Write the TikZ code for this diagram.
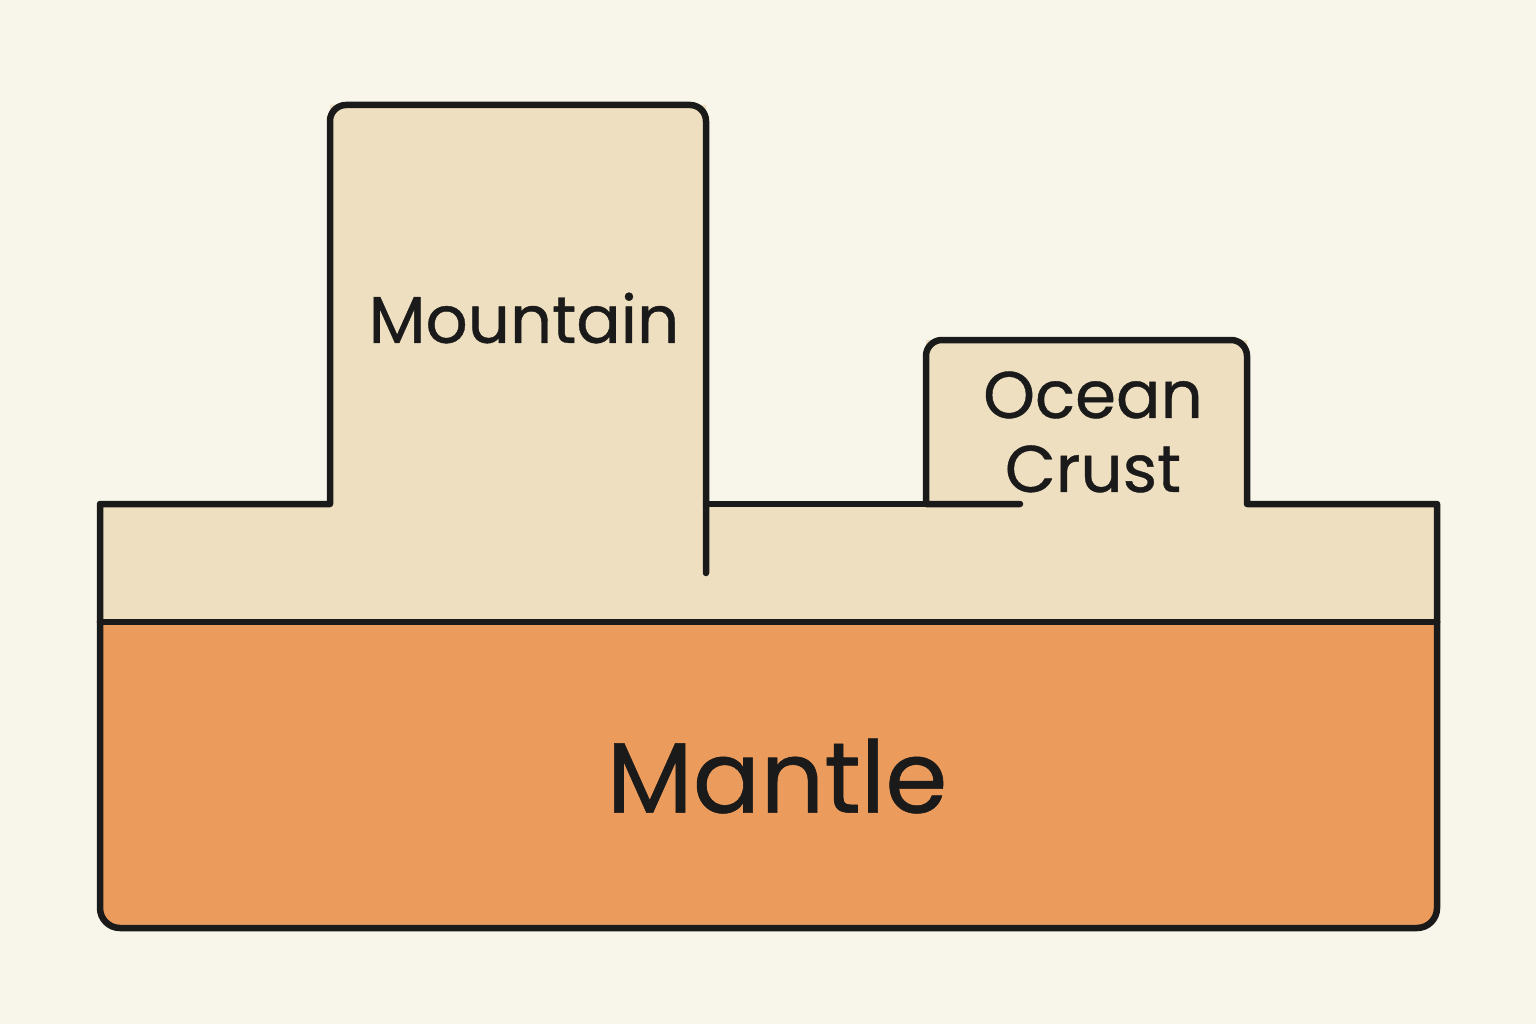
\documentclass[tikz,border=0pt]{standalone}
\usepackage{fontspec}
\setmainfont{Poppins}
\newfontfamily\popb[FakeBold=0.6]{Poppins}
\definecolor{bg}{HTML}{F8F5EA}
\definecolor{crust}{HTML}{EEDFC0}
\definecolor{mantle}{HTML}{EB9B5C}
\definecolor{ink}{HTML}{1A1A1A}
\begin{document}
\begin{tikzpicture}[x=1pt,y=-1pt,line width=6.5pt,line join=round,line cap=round,
  lbl/.style={text=ink}]
\fill[bg] (0,0) rectangle (1536,1024);
\useasboundingbox (0,0) rectangle (1536,1024);
% fills
\fill[crust] (100,504) -- (330,504) -- (330,105) -- (706,105) -- (706,504) -- (926,504) -- (926,340) -- (1247,340) -- (1247,504) -- (1437,504) -- (1437,622) -- (100,622) -- cycle;
\fill[mantle] (100,622) -- (1437,622) -- (1437,910) [rounded corners=20pt] -- (1437,928) -- (100,928) [sharp corners] -- (100,910) -- cycle;
% outlines
\draw[ink] (100,622) -- (100,504) -- (330,504) [rounded corners=16pt] -- (330,105) -- (706,105) [sharp corners] -- (706,573);
\draw[ink] (706,504) -- (926,504);
\draw[ink] (1020,504) -- (926,504) [rounded corners=16pt] -- (926,340) -- (1247,340) [sharp corners] -- (1247,504) -- (1437,504) -- (1437,622);
\draw[ink] (100,622) -- (1437,622);
\draw[ink,rounded corners=20pt] (100,622) -- (100,928) -- (1437,928) -- (1437,622);
% labels
\node[lbl,font=\popb\fontsize{66}{70}\selectfont] (mt) at (524,318) {Mountain};
\node[lbl,align=center,font=\popb\fontsize{66}{74}\selectfont] (oc) at (1093,432) {Ocean\\Crust};
\node[lbl,font=\popb\fontsize{100}{104}\selectfont] (ma) at (777,776) {Mantle};
\end{tikzpicture}
\end{document}
